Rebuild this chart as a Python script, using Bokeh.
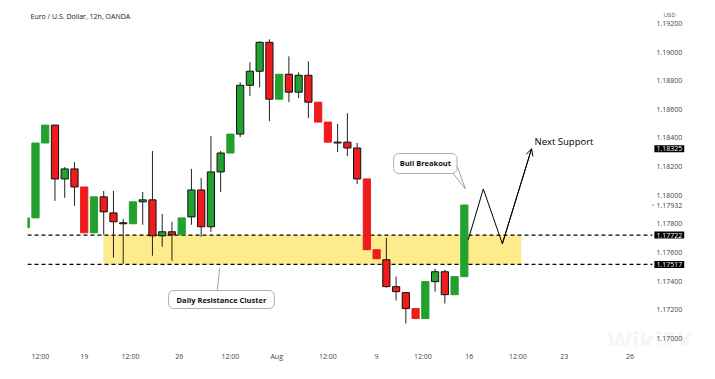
from bokeh.plotting import figure
from bokeh.models import (Range1d, FixedTicker, Label, Arrow, OpenHead,
                          BoxAnnotation, ColumnDataSource)
from bokeh.core.properties import value
from bokeh.embed import file_html
from bokeh.resources import INLINE

# ---- data (EUR/USD 12h candles) ----
opens = [1.17773, 1.17842, 1.18365, 1.18490, 1.18114, 1.18184, 1.18058, 1.17738,
         1.17989, 1.17877, 1.17808, 1.17801, 1.17954, 1.17968, 1.17717, 1.17745,
         1.17724, 1.17849, 1.18037, 1.17780, 1.18163, 1.18295, 1.18427, 1.18768,
         1.18866, 1.19068, 1.18671, 1.18845, 1.18720, 1.18838, 1.18650, 1.18511,
         1.18371, 1.18371, 1.18330, 1.18114, 1.17620, 1.17550, 1.17362, 1.17320,
         1.17209, 1.17139, 1.17397, 1.17466, 1.17306, 1.17432]
highs = [1.17842, 1.18365, 1.18490, 1.18490, 1.18197, 1.18232, 1.18058, 1.17989,
         1.18030, 1.18030, 1.17835, 1.17954, 1.18023, 1.18309, 1.17870, 1.17815,
         1.17842, 1.18184, 1.18121, 1.18413, 1.18309, 1.18427, 1.18789, 1.18928,
         1.19075, 1.19089, 1.18845, 1.18970, 1.18859, 1.18935, 1.18650, 1.18511,
         1.18497, 1.18573, 1.18365, 1.18114, 1.17620, 1.17703, 1.17432, 1.17320,
         1.17209, 1.17397, 1.17487, 1.17480, 1.17432, 1.17932]
lows = [1.17773, 1.17842, 1.18365, 1.17961, 1.17982, 1.17926, 1.17738, 1.17738,
        1.17724, 1.17564, 1.17522, 1.17801, 1.17794, 1.17578, 1.17641, 1.17543,
        1.17724, 1.17794, 1.17710, 1.17745, 1.18023, 1.18295, 1.18406, 1.18692,
        1.18754, 1.18518, 1.18671, 1.18650, 1.18678, 1.18539, 1.18511, 1.18371,
        1.18302, 1.18274, 1.18079, 1.17620, 1.17557, 1.17355, 1.17265, 1.17104,
        1.17139, 1.17139, 1.17327, 1.17244, 1.17306, 1.17432]
closes = [1.17842, 1.18365, 1.18490, 1.18114, 1.18184, 1.18058, 1.17738, 1.17989,
          1.17884, 1.17815, 1.17801, 1.17954, 1.17968, 1.17717, 1.17745, 1.17724,
          1.17842, 1.18037, 1.17780, 1.18163, 1.18295, 1.18427, 1.18768, 1.18866,
          1.19068, 1.18671, 1.18845, 1.18720, 1.18838, 1.18650, 1.18511, 1.18371,
          1.18365, 1.18330, 1.18114, 1.17620, 1.17557, 1.17362, 1.17327, 1.17209,
          1.17139, 1.17397, 1.17466, 1.17306, 1.17432, 1.17932]

x_tick_pos = [1.5, 6, 10.75, 15.75, 21, 25.75, 31, 36, 40.75, 45.5, 50.5, 55.25, 62]
x_tick_labels = ["12:00", "19", "12:00", "26", "12:00", "Aug", "12:00", "9",
                 "12:00", "16", "12:00", "23", "26"]
price_ticks = [1.170, 1.172, 1.174, 1.176, 1.178, 1.180, 1.182, 1.184, 1.186,
               1.188, 1.190, 1.192]
last_price = 1.17932
marked_prices = [1.18325, 1.17722, 1.17517]

zone_top = 1.17722
zone_bottom = 1.17517
zone_left = 7.97
zone_right = 50.85

path_x = [45.4, 46.95, 48.9, 51.9]
path_y = [1.17689, 1.18044, 1.17661, 1.18325]

GREEN = "#22a12f"
RED = "#ee1c1c"
FONT = "Open Sans"

# price-scale column (in candle-index units, right of the candles)
scale_x = 64.72
box_x = 64.50
line_end_x = 64.30

idx = list(range(len(opens)))
fill = [GREEN if c >= o else RED for o, c in zip(opens, closes)]
has_wick = [(h > max(o, c) + 1e-9) or (l < min(o, c) - 1e-9)
            for o, h, l, c in zip(opens, highs, lows, closes)]
edge = ["#111111" if w else f for w, f in zip(has_wick, fill)]

src = ColumnDataSource(dict(
    x=idx,
    top=[max(o, c) for o, c in zip(opens, closes)],
    bottom=[min(o, c) for o, c in zip(opens, closes)],
    high=highs, low=lows, fill=fill, edge=edge,
))

p = figure(width=699, height=363,
           x_range=Range1d(0.18, 69.13), y_range=Range1d(1.16951, 1.19360),
           output_backend="svg", toolbar_location=None,
           y_axis_location=None,
           min_border_left=27, min_border_right=0,
           min_border_top=0, min_border_bottom=17)
p.background_fill_color = "white"
p.outline_line_color = None
p.grid.grid_line_color = None

ax = p.xaxis[0]
ax.axis_line_color = None
ax.major_tick_line_color = None
ax.minor_tick_line_color = None
ax.major_tick_out = 0
ax.major_tick_in = 0
ax.major_label_text_font = FONT
ax.major_label_text_font_size = "7px"
ax.major_label_text_color = "#444444"
ax.ticker = FixedTicker(ticks=x_tick_pos)
ax.major_label_overrides = {t: l for t, l in zip(x_tick_pos, x_tick_labels)}
ax.major_label_standoff = 6

# faint watermark (beneath everything)
p.add_layout(Label(x=580, y=6, x_units="screen", y_units="screen",
                   text="WikiFX", text_font=FONT, text_font_size="25px",
                   text_font_style="bold", text_baseline="middle",
                   text_color="#f5f5f5", level="underlay"))

# resistance zone
p.add_layout(BoxAnnotation(left=zone_left, right=zone_right, bottom=zone_bottom,
                           top=zone_top, fill_color="#fdeb8c", fill_alpha=1.0,
                           line_color=None, level="underlay"))
p.segment(x0=[0.18, 0.18], y0=[zone_top, zone_bottom],
          x1=[line_end_x, line_end_x], y1=[zone_top, zone_bottom],
          line_color="black", line_dash="4 3", line_width=1.3)

# candles
p.segment(x0="x", y0="low", x1="x", y1="high", source=src,
          line_color="#222222", line_width=1)
p.vbar(x="x", width=0.74, top="top", bottom="bottom", source=src,
       fill_color="fill", line_color="edge", line_width=1)

# projected path
p.line(path_x, path_y, line_color="black", line_width=1)
p.add_layout(Arrow(end=OpenHead(size=7, line_width=1, line_color="black"),
                   x_start=path_x[-2], y_start=path_y[-2],
                   x_end=path_x[-1], y_end=path_y[-1],
                   line_color="black", line_width=1))
p.add_layout(Label(x=52.2, y=1.18378, text="Next Support", text_font=FONT,
                   text_font_size="9.5px", text_baseline="middle",
                   text_color="black"))

# callouts
p.multi_line(xs=[[43.79, 45.12], [44.30, 45.12]],
             ys=[[1.18156, 1.18044], [1.18197, 1.18044]],
             line_color="#8a8a8a", line_width=0.8)
p.add_layout(Label(x=41.0, y=1.18222, text="Bull Breakout", text_font=FONT,
                   text_font_size="7.5px", text_font_style="bold",
                   text_align="center", text_baseline="middle",
                   text_color="#111111", background_fill_color="white",
                   border_line_color="#9a9a9a", border_line_width=0.8,
                   border_radius=5, padding=(6, 5)))

p.multi_line(xs=[[19.6, 19.9]], ys=[[1.17305, 1.17490]],
             line_color="#8a8a8a", line_width=0.8)
p.add_layout(Label(x=20.08, y=1.17272, text="Daily Resistance Cluster", text_font=FONT,
                   text_font_size="7.5px", text_font_style="bold",
                   text_align="center", text_baseline="middle",
                   text_color="#111111", background_fill_color="white",
                   border_line_color="#9a9a9a", border_line_width=0.8,
                   border_radius=5, padding=(8, 4)))

# price scale
p.text(x=[scale_x] * (len(price_ticks) + 1), y=price_ticks + [last_price],
       text=[f"{v:.5f}" for v in price_ticks + [last_price]],
       text_font=value(FONT), text_font_size="7px", text_color="#444444",
       text_align="left", text_baseline="middle")
p.segment(x0=[box_x - 0.25], y0=[last_price], x1=[box_x - 0.05], y1=[last_price],
          line_color="#888888", line_width=1)
for price in marked_prices:
    p.add_layout(Label(x=box_x, y=price, text=f"{price:.5f}", text_font=FONT,
                       text_font_size="7px", text_baseline="middle",
                       text_color="white", background_fill_color="black",
                       padding=(2, 1)))
p.add_layout(Label(x=66.05, y=1.19256, text="USD", text_font=FONT,
                   text_font_size="6px", text_align="center",
                   text_baseline="middle", text_color="#555555"))

# header
p.add_layout(Label(x=3, y=329, x_units="screen", y_units="screen",
                   text="Euro / U.S. Dollar, 12h, OANDA", text_font=FONT,
                   text_font_size="7px", text_baseline="middle",
                   text_color="#131722"))

open("out.html", "w").write(file_html(p, INLINE))
